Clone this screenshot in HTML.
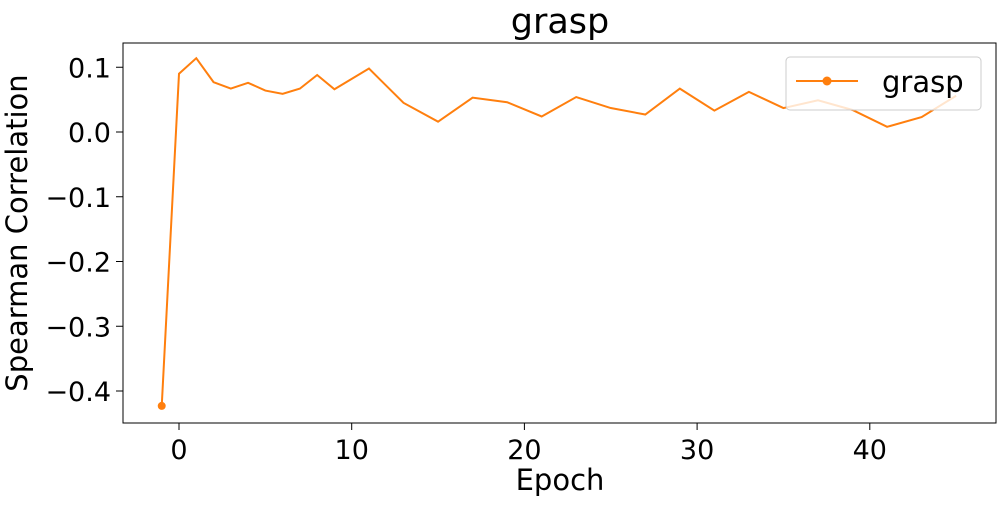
<!DOCTYPE html>
<html><head><meta charset="utf-8"><style>
body{margin:0;background:#fff;}
svg text{font-family:"DejaVu Sans","Liberation Sans",sans-serif;fill:#000;}
</style></head><body>
<svg id="chart" width="1000" height="500" viewBox="0 0 1000 500">
<text x="560" y="33" font-size="35" text-anchor="middle">grasp</text>
<g id="grid"></g>
<g id="series"></g>
<rect x="123" y="43" width="873" height="380" fill="none" stroke="#000" stroke-width="1"/>
<text x="560" y="490" font-size="29" text-anchor="middle">Epoch</text>
<text transform="translate(27,233) rotate(-90)" font-size="29" text-anchor="middle">Spearman Correlation</text>
<g>
<rect x="786" y="57" width="195" height="53" rx="4" fill="#fff" fill-opacity="0.8" stroke="#ccc"/>
<line x1="796" y1="81" x2="858" y2="81" stroke="#ff7f0e" stroke-width="2"/>
<circle cx="827" cy="81" r="4.5" fill="#ff7f0e"/>
<text x="882" y="92" font-size="29">grasp</text>
</g>
</svg>
<script>
const epochs=[-1,0,1,2,3,4,5,6,7,8,9,11,13,15,17,19,21,23,25,27,29,31,33,35,37,39,41,43,45];
const values=[-0.423,0.090,0.114,0.077,0.067,0.076,0.064,0.059,0.067,0.088,0.066,0.098,0.045,0.016,0.053,0.046,0.024,0.054,0.037,0.027,0.067,0.033,0.062,0.037,0.049,0.034,0.008,0.023,0.056];
const xTicks=[0,10,20,30,40];
const yTicks=[0.1,0.0,-0.1,-0.2,-0.3,-0.4];
const NS="http://www.w3.org/2000/svg";
const xs=v=>179+v*17.27;
const ys=v=>132-v*647.5;
const g=document.getElementById('grid'),s=document.getElementById('series');
function mk(t,a,p){const e=document.createElementNS(NS,t);for(const k in a)e.setAttribute(k,a[k]);p.appendChild(e);return e;}
xTicks.forEach(t=>{
 const l=mk('line',{x1:xs(t),x2:xs(t),y1:423,y2:430,stroke:'#000'},g);
 
 
 const tx=mk('text',{x:xs(t),y:459,'font-size':27,'text-anchor':'middle'},g);
 tx.textContent=t;
 
 
});
yTicks.forEach(t=>{
 const l=mk('line',{x1:116,x2:123,y1:ys(t),y2:ys(t),stroke:'#000'},g);
 
 
 const tx=mk('text',{x:111,y:ys(t)+10,'font-size':27,'text-anchor':'end'},g);
 tx.textContent=(t<0?'\u2212':'')+Math.abs(t).toFixed(1);
 
 
});
const pl=mk('polyline',{points:epochs.map((e,i)=>xs(e)+','+ys(values[i])).join(' '),fill:'none',stroke:'#ff7f0e','stroke-width':2},s);


const c=mk('circle',{cx:xs(epochs[0]),cy:ys(values[0]),r:4,fill:'#ff7f0e'},s);


</script>
</body></html>
